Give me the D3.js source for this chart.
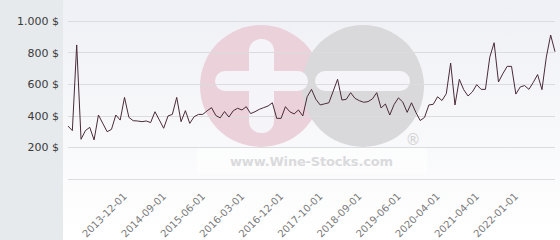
<!DOCTYPE html>
<html>
<head>
<meta charset="utf-8">
<script src="https://cdn.jsdelivr.net/npm/d3@7"></script>
<style>
  body { margin: 0; padding: 0; background: #fff; }
  #chart { width: 560px; height: 240px; }
  .yLabel { font-family: "DejaVu Sans", Verdana, sans-serif; font-size: 11px; fill: #3a3a3a; }
  .xLabel { font-family: "DejaVu Sans", Verdana, sans-serif; font-size: 10px; fill: #7a7a7a; }
</style>
</head>
<body>
<div id="chart"></div>
<script>

// price per point
var prices = [333, 304, 848, 249, 304, 325, 245, 403, 350, 297,
    312, 403, 371, 515, 388, 367, 365, 361, 365, 355,
    424, 372, 319, 397, 407, 515, 361, 431, 350, 392,
    407, 407, 430, 450, 400, 385, 425, 390, 430, 446,
    435, 456, 412, 424, 439, 450, 460, 481, 382, 382,
    456, 424, 410, 435, 397, 519, 566, 503, 467, 474,
    481, 555, 630, 498, 503, 545, 509, 494, 484, 488,
    505, 545, 448, 473, 403, 470, 512, 485, 420, 481,
    420, 368, 388, 467, 471, 519, 495, 538, 733, 467,
    630, 564, 524, 550, 596, 566, 566, 770, 862, 613,
    665, 712, 712, 536, 581, 590, 566, 610, 660, 564,
    770, 911, 805];

// x axis labels and the point they belong to
var tickLabels = ["2013-12-01", "2014-09-01", "2015-06-01", "2016-03-01", "2016-12-01", "2017-10-01",
    "2018-09-01", "2019-06-01", "2020-04-01", "2021-04-01", "2022-01-01"];
var tickPoints = [13, 22, 31, 40, 49, 58, 67, 76, 85, 94, 103];

var yTicks = [0, 200, 400, 600, 800, 1000];

var width = 560, height = 240;
var plot = {left: 68, right: 555, top: 21, bottom: 178.5};

var svg = d3.select("#chart")
    .append("svg")
    .attr("width", width)
    .attr("height", height);

// backgrounds
var grad = svg.append("defs").append("linearGradient")
    .attr("id", "bg")
    .attr("x1", 0).attr("y1", 0).attr("x2", 0).attr("y2", 1);
grad.append("stop").attr("offset", "0%").attr("stop-color", "#eff0f5");
grad.append("stop").attr("offset", "100%").attr("stop-color", "#ffffff");

svg.append("rect")
    .attr("x", 0).attr("y", 0)
    .attr("width", 63).attr("height", height)
    .attr("fill", "#e6eaed");
svg.append("rect")
    .attr("x", 63).attr("y", 0)
    .attr("width", width - 63).attr("height", height)
    .attr("fill", "url(#bg)");

// watermark
var wm = svg.append("g").attr("class", "watermark");
wm.append("circle").attr("cx", 261).attr("cy", 86).attr("r", 61).attr("fill", "#ebd2da");
wm.append("circle").attr("cx", 363).attr("cy", 86).attr("r", 61).attr("fill", "#d9d9db");
wm.append("rect").attr("x", 249).attr("y", 39).attr("width", 25).attr("height", 94).attr("rx", 12).attr("fill", "#f5f5f9");
wm.append("rect").attr("x", 215).attr("y", 71).attr("width", 93).attr("height", 20).attr("rx", 10).attr("fill", "#f5f5f9");
wm.append("rect").attr("x", 315).attr("y", 71).attr("width", 95).attr("height", 20).attr("rx", 10).attr("fill", "#f5f5f9");
wm.append("rect").attr("x", 197).attr("y", 148).attr("width", 230).attr("height", 25).attr("fill", "#ffffff").attr("opacity", 0.5);
wm.append("text")
    .attr("x", 230).attr("y", 166)
    .attr("textLength", 163)
    .style("font-family", "'DejaVu Sans', sans-serif")
    .style("font-weight", "bold")
    .style("font-size", "13px")
    .attr("fill", "#dadadc")
    .text("www.Wine-Stocks.com");
wm.append("text")
    .attr("x", 413).attr("y", 145)
    .attr("text-anchor", "middle")
    .style("font-family", "'DejaVu Sans', sans-serif")
    .style("font-size", "15px")
    .attr("fill", "#d2d2d4")
    .text("\u00ae");

// scales
var x = d3.scaleLinear()
    .domain([0, prices.length - 1])
    .range([plot.left, plot.right]);

var y = d3.scaleLinear()
    .domain([0, 1000])
    .range([plot.bottom, plot.top]);

var locale = d3.formatLocale({decimal: ",", thousands: ".", grouping: [3], currency: ["", " $"]});
var fmt = locale.format(",");

// grid lines
svg.append("g")
    .selectAll("line")
    .data(yTicks)
    .enter()
    .append("line")
    .attr("x1", plot.left)
    .attr("x2", plot.right)
    .attr("y1", function(d) { return Math.round(y(d)) + 0.5; })
    .attr("y2", function(d) { return Math.round(y(d)) + 0.5; })
    .attr("stroke", "#dcdcde")
    .attr("stroke-width", 1);

// y labels (no label at 0)
svg.append("g")
    .selectAll("text")
    .data(yTicks.filter(function(d) { return d > 0; }))
    .enter()
    .append("text")
    .attr("class", "yLabel")
    .attr("x", 59)
    .attr("y", function(d) { return y(d) + 4; })
    .attr("text-anchor", "end")
    .text(function(d) { return fmt(d) + " $"; });

// x labels
svg.append("g")
    .selectAll("text")
    .data(tickLabels)
    .enter()
    .append("text")
    .attr("class", "xLabel")
    .attr("text-anchor", "end")
    .attr("transform", function(d, i) {
        return "translate(" + (x(tickPoints[i]) + 3) + ",197) rotate(-45)";
    })
    .text(function(d) { return d; });

// price line
var line = d3.line()
    .x(function(d, i) { return x(i); })
    .y(function(d) { return y(d); });

svg.append("path")
    .datum(prices)
    .attr("d", line)
    .attr("fill", "none")
    .attr("stroke", "#4a2a38")
    .attr("stroke-width", 1)
    .attr("stroke-linejoin", "round");

</script>
</body>
</html>
